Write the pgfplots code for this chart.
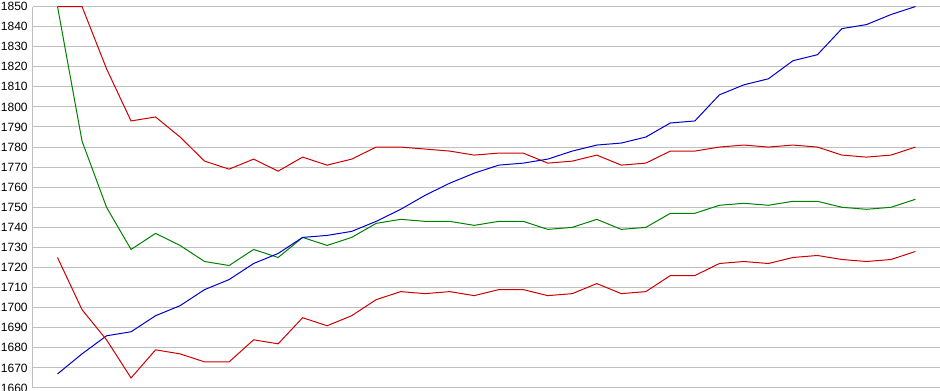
\documentclass[border=0pt]{standalone}
\usepackage{fontspec}
\setmainfont{Liberation Sans}
\usepackage{pgfplots}
\pgfplotsset{compat=1.18}
\usepackage{pgfplotstable}
\definecolor{cred}{RGB}{204,0,0}
\definecolor{cgreen}{RGB}{0,128,0}
\definecolor{cblue}{RGB}{0,0,204}
\definecolor{cgrid}{RGB}{192,192,192}
\pgfplotstableread{
x redA green blue redB
0 1850 1850 1667 1725
1 1850 1783 1677 1699
2 1819 1750 1686 1684
3 1793 1729 1688 1665
4 1795 1737 1696 1679
5 1785 1731 1701 1677
6 1773 1723 1709 1673
7 1769 1721 1714 1673
8 1774 1729 1722 1684
9 1768 1725 1727 1682
10 1775 1735 1735 1695
11 1771 1731 1736 1691
12 1774 1735 1738 1696
13 1780 1742 1743 1704
14 1780 1744 1749 1708
15 1779 1743 1756 1707
16 1778 1743 1762 1708
17 1776 1741 1767 1706
18 1777 1743 1771 1709
19 1777 1743 1772 1709
20 1772 1739 1774 1706
21 1773 1740 1778 1707
22 1776 1744 1781 1712
23 1771 1739 1782 1707
24 1772 1740 1785 1708
25 1778 1747 1792 1716
26 1778 1747 1793 1716
27 1780 1751 1806 1722
28 1781 1752 1811 1723
29 1780 1751 1814 1722
30 1781 1753 1823 1725
31 1780 1753 1826 1726
32 1776 1750 1839 1724
33 1775 1749 1841 1723
34 1776 1750 1846 1724
35 1780 1754 1850 1728
}\datatable
\begin{document}
\begin{tikzpicture}
\begin{axis}[
  at={(0,0)}, anchor=south west,
  scale only axis,
  width=680.25pt, height=286.1pt,
  xmin=-1, xmax=36,
  ymin=1660, ymax=1850,
  ytick distance=10,
  xtick=\empty,
  axis x line=none,
  axis y line*=left,
  axis line style={cgrid, line width=0.75pt, -},
  ymajorgrids,
  grid style={cgrid, line width=0.75pt},
  major tick length=0pt,
  ytick style={draw=none},
  yticklabel style={font=\fontsize{9pt}{10pt}\selectfont, inner sep=0pt, xshift=-3.8pt},
  /pgf/number format/assume math mode=true,
  /pgf/number format/1000 sep={},
  clip=false,
  every axis plot/.append style={line width=0.75pt, no markers, line join=miter},
]
\addplot[cred] table[x=x, y=redA] {\datatable};
\addplot[cgreen] table[x=x, y=green] {\datatable};
\addplot[cblue] table[x=x, y=blue] {\datatable};
\addplot[cred] table[x=x, y=redB] {\datatable};
\end{axis}
\pgfresetboundingbox
\path[use as bounding box] (-24.75pt,-2.25pt) rectangle (680.25pt,291pt);
\end{tikzpicture}
\end{document}
